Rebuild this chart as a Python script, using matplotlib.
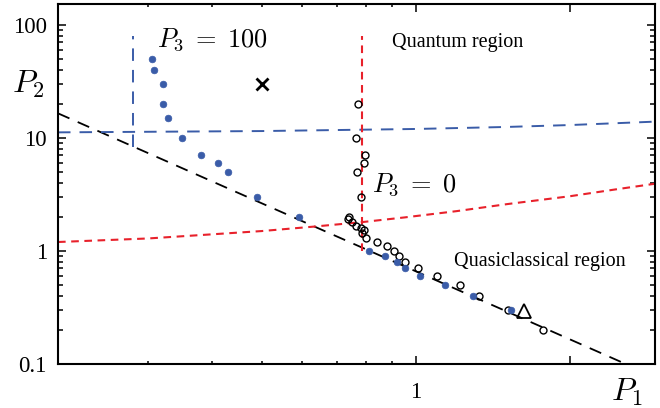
#phase diagram of the P1-P2 plane, log-log axes
import numpy as np
import matplotlib
matplotlib.use("Agg")
import matplotlib.pyplot as plt
from matplotlib.ticker import FixedLocator, NullFormatter

plt.rcParams['font.family'] = 'Liberation Serif'
plt.rcParams['mathtext.fontset'] = 'cm'
plt.rcParams['lines.scale_dashes'] = False

#boundary points for P3=100 (filled) and P3=0 (open)
p1_full = [0.305, 0.308, 0.32, 0.32, 0.328, 0.35, 0.38, 0.41, 0.43, 0.49, 0.59,
           0.81, 0.87, 0.92, 0.95, 1.02, 1.14, 1.29, 1.53]
p2_full = [50, 40, 30, 20, 15, 10, 7, 6, 5, 3, 2,
           1, 0.9, 0.8, 0.7, 0.6, 0.5, 0.4, 0.3]

p1_open = [0.77, 0.763, 0.795, 0.79, 0.767, 0.78, 0.74, 0.737, 0.75, 0.763, 0.78,
           0.79, 0.785, 0.80, 0.84, 0.88, 0.905, 0.925, 0.95, 1.01, 1.10, 1.22,
           1.33, 1.51, 1.77]
p2_open = [20, 10, 7, 6, 5, 3, 2.0, 1.9, 1.8, 1.67, 1.6,
           1.53, 1.44, 1.3, 1.2, 1.1, 1.0, 0.9, 0.8, 0.7, 0.6, 0.5,
           0.4, 0.3, 0.2]

#single markers
cross_p1, cross_p2 = 0.5, 30
tri_p1, tri_p2 = 1.625, 0.294

#classical line P2 ~ P1^-2
p1_class = [0.2, 2.6]
p2_class = [16.5, 0.0976]

#P3=100 limits
p1_blue_h = [0.2, 0.5, 1.0, 1.5, 2.0, 2.95]
p2_blue_h = [11.2, 11.5, 12.0, 12.5, 13.0, 13.95]
p1_blue_v = [0.28, 0.28]
p2_blue_v = [8.3, 80]

#P3=0 limits
p1_red_c = [0.2, 0.3, 0.387, 0.5, 0.63, 0.785, 0.95, 1.2, 1.51, 2.0, 2.45, 2.95]
p2_red_c = [1.2, 1.29, 1.39, 1.5, 1.64, 1.8, 1.98, 2.25, 2.6, 3.05, 3.5, 3.95]
p1_red_v = [0.785, 0.785]
p2_red_v = [1.0, 80]

blue = '#3a5ca8'
red = '#e8212b'

fig = plt.figure(figsize=(6.6, 4.08), dpi=100)
ax = fig.add_axes([58/660, 44/408, 597/660, 360/408])
ax.set_xscale('log')
ax.set_yscale('log')

ax.plot(p1_class, p2_class, color='black', lw=1.3, dashes=(9, 6.5))
ax.plot(p1_blue_h, p2_blue_h, color=blue, lw=1.4, dashes=(9, 6.5))
ax.plot(p1_blue_v, p2_blue_v, color=blue, lw=1.4, dashes=(9, 6.5))
ax.plot(p1_red_c, p2_red_c, color=red, lw=1.5, dashes=(5.5, 4))
ax.plot(p1_red_v, p2_red_v, color=red, lw=1.5, dashes=(5.5, 4))

ax.plot(p1_open, p2_open, 'o', ms=5, mfc='none', mec='black', mew=1.0)
ax.plot(p1_full, p2_full, 'o', ms=4.8, mfc=blue, mec=blue, mew=0.5)
ax.plot(cross_p1, cross_p2, 'x', ms=8, color='black', mew=2)
ax.plot(tri_p1, tri_p2, '^', ms=9.5, mfc='none', mec='black', mew=1.3)

ax.set_xlim(0.2, 2.93)
ax.set_ylim(0.1, 153)

#ticks
ax.xaxis.set_major_locator(FixedLocator([1, 2]))
ax.set_xticklabels(['1', ''])
ax.xaxis.set_minor_locator(FixedLocator([0.3, 0.4, 0.5, 0.6, 0.7, 0.8, 0.9]))
ax.xaxis.set_minor_formatter(NullFormatter())
ax.yaxis.set_major_locator(FixedLocator([0.1, 1, 10, 100]))
ax.set_yticklabels(['0.1', '1', '10', '100'])
ymin = [k * 10.0**e for e in (-1, 0, 1) for k in range(2, 10)]
ax.yaxis.set_minor_locator(FixedLocator(ymin))
ax.yaxis.set_minor_formatter(NullFormatter())

ax.tick_params(which='both', direction='in', top=True, right=True, width=1.1,
               labelsize=16.5)
ax.tick_params(axis='x', which='major', length=6, pad=13)
ax.tick_params(axis='x', which='minor', length=2.5)
ax.tick_params(axis='y', which='major', length=6, pad=8)
ax.tick_params(axis='y', which='minor', length=3.5)
for s in ax.spines.values():
    s.set_linewidth(1.5)

#labels
ax.text(-0.049, 0.778, r'$P_2$', transform=ax.transAxes, fontsize=23,
        ha='center', va='center')
ax.text(0.953, -0.078, r'$P_1$', transform=ax.transAxes, fontsize=23,
        ha='center', va='center')
ax.text(0.312, 65, r'$P_3\;=\;100$', fontsize=19, va='baseline')
ax.text(0.82, 3.33, r'$P_3\;=\;0$', fontsize=19, va='baseline')
ax.text(0.898, 63.9, 'Quantum region', fontsize=14.5, va='baseline')
ax.text(1.186, 0.736, 'Quasiclassical region', fontsize=14.5, va='baseline')

plt.savefig('out.png', dpi=100)
